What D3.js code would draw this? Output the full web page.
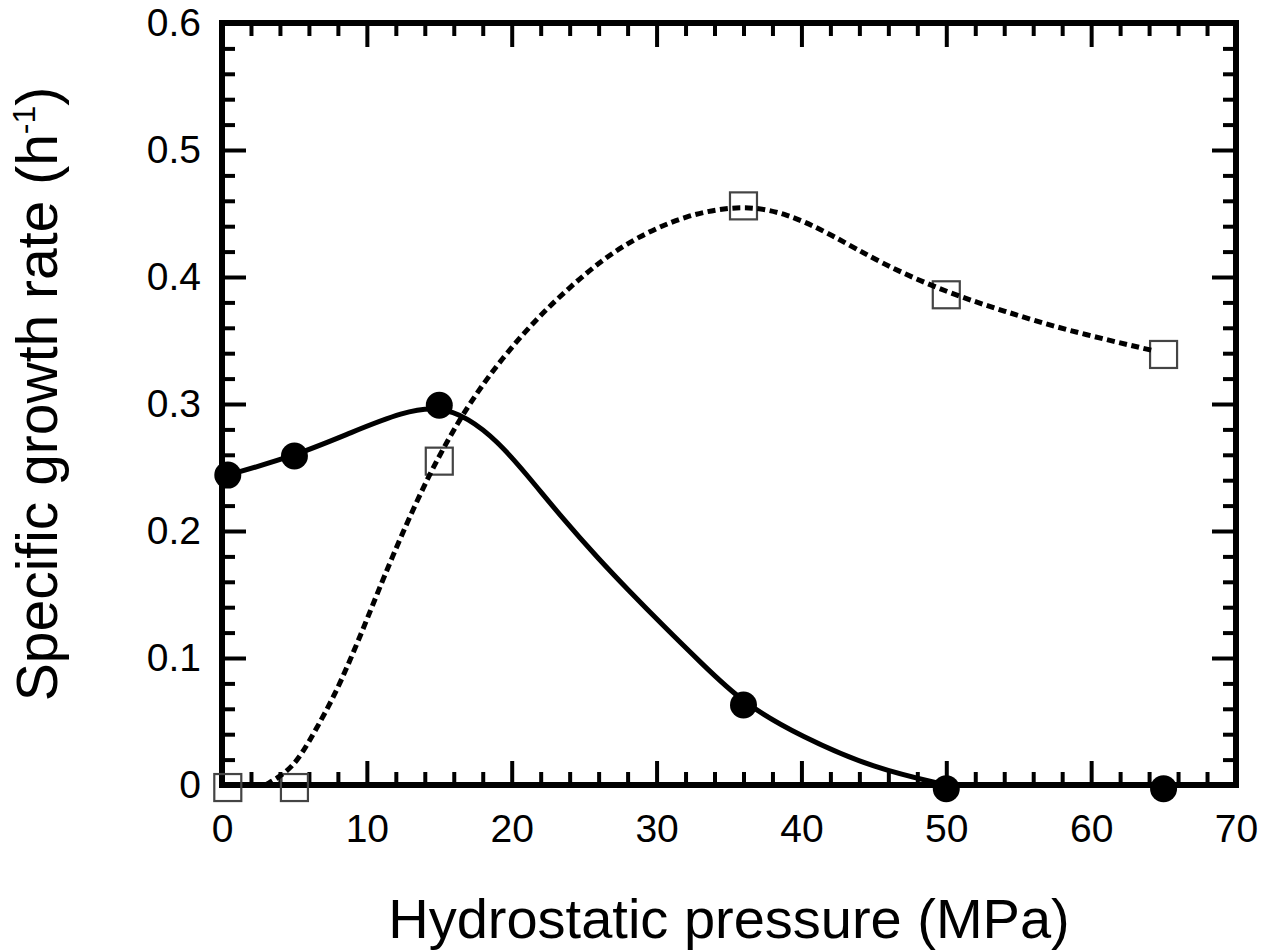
<!DOCTYPE html>
<html lang="en">
<head>
    <meta charset="UTF-8">
    <title>Specific growth rate vs hydrostatic pressure</title>
    <script src="https://cdn.jsdelivr.net/npm/d3@7"></script>
    <style>
        body { margin: 0; background: #fff; }
        text { font-family: "Liberation Sans", Arial, Helvetica, sans-serif; fill: #000; }
    </style>
</head>
<body>

<div id="fig1"></div>

<script>
    const width = 1265;
    const height = 951;

    // measured points (MPa, h^-1)
    const pressure = [0.4, 5, 15, 36, 50, 65];
    const filledRate = [0.244, 0.259, 0.299, 0.063, -0.003, -0.003];
    const openRate = [-0.002, -0.002, 0.255, 0.456, 0.386, 0.339];

    // fitted curves
    const solidFitX = [0.4, 5, 9, 12.5, 15, 17, 19, 21, 23.5, 26, 28, 30.5, 33, 36, 40, 45, 50];
    const solidFitY = [0.244, 0.259, 0.278, 0.294, 0.298, 0.289, 0.271, 0.245, 0.210, 0.178, 0.154, 0.125, 0.097, 0.064, 0.038, 0.013, 0];
    const dashFitX = [3, 4.5, 5.5, 6.5, 7.7, 8.8, 10, 11.6, 14.3, 17, 19.4, 21.7, 24, 26.3, 28.6, 32, 36, 39, 42, 45.6, 50, 54, 58.3, 64.3];
    const dashFitY = [0, 0.010, 0.024, 0.044, 0.069, 0.097, 0.130, 0.176, 0.246, 0.300, 0.337, 0.367, 0.392, 0.414, 0.431, 0.449, 0.457, 0.450, 0.434, 0.410, 0.388, 0.373, 0.358, 0.342];

    const xMajor = [0, 10, 20, 30, 40, 50, 60, 70];
    const xMinor = d3.range(0, 71, 2).filter(v => v % 10 !== 0);
    const yMajor = [0, 0.1, 0.2, 0.3, 0.4, 0.5, 0.6];
    const yMinor = d3.range(0, 31).map(i => i * 0.02).filter((v, i) => i % 5 !== 0);

    const plot = {left: 222, right: 1236, top: 23, bottom: 785};
    const majorLen = 24, minorLen = 13;

    const svg = d3.select("#fig1").append("svg")
        .attr("width", width)
        .attr("height", height);

    const x = d3.scaleLinear().domain([0, 70]).range([plot.left, plot.right]);
    const y = d3.scaleLinear().domain([0, 0.6]).range([plot.bottom, plot.top]);

    function styleTicks(g, sw) {
        g.select(".domain").remove();
        g.selectAll(".tick line").attr("stroke", "#000").attr("stroke-width", sw);
    }

    // minor ticks on all sides
    const minorAxes = [
        [d3.axisBottom(x).tickValues(xMinor), "translate(0," + plot.bottom + ")"],
        [d3.axisTop(x).tickValues(xMinor), "translate(0," + plot.top + ")"],
        [d3.axisLeft(y).tickValues(yMinor), "translate(" + plot.left + ",0)"],
        [d3.axisRight(y).tickValues(yMinor), "translate(" + plot.right + ",0)"]
    ];
    minorAxes.forEach(function (a) {
        svg.append("g")
            .attr("transform", a[1])
            .call(a[0].tickSize(-minorLen).tickFormat(""))
            .call(g => styleTicks(g, 4));
    });

    // major ticks, labels on bottom and left
    svg.append("g")
        .attr("transform", "translate(0," + plot.bottom + ")")
        .call(d3.axisBottom(x).tickValues(xMajor).tickSize(-majorLen).tickPadding(29).tickFormat(d3.format("d")))
        .call(g => styleTicks(g, 4))
        .call(g => g.selectAll("text").attr("font-size", 39).attr("font-family", null));

    svg.append("g")
        .attr("transform", "translate(0," + plot.top + ")")
        .call(d3.axisTop(x).tickValues(xMajor).tickSize(-majorLen).tickFormat(""))
        .call(g => styleTicks(g, 4));

    svg.append("g")
        .attr("transform", "translate(" + plot.left + ",0)")
        .call(d3.axisLeft(y).tickValues(yMajor).tickSize(-majorLen).tickPadding(21)
            .tickFormat(d => d === 0 ? "0" : d3.format(".1f")(d)))
        .call(g => styleTicks(g, 4))
        .call(g => g.selectAll("text").attr("font-size", 39).attr("font-family", null));

    svg.append("g")
        .attr("transform", "translate(" + plot.right + ",0)")
        .call(d3.axisRight(y).tickValues(yMajor).tickSize(-majorLen).tickFormat(""))
        .call(g => styleTicks(g, 4));

    // frame
    svg.append("rect")
        .attr("x", plot.left)
        .attr("y", plot.top)
        .attr("width", plot.right - plot.left)
        .attr("height", plot.bottom - plot.top)
        .attr("fill", "none")
        .attr("stroke", "#000")
        .attr("stroke-width", 6);

    const line = d3.line()
        .x(d => x(d[0]))
        .y(d => y(d[1]))
        .curve(d3.curveBasis);

    // open squares
    const sq = 27;
    svg.append("g").selectAll("rect")
        .data(pressure.map((p, i) => [p, openRate[i]]))
        .join("rect")
        .attr("x", d => x(d[0]) - sq / 2)
        .attr("y", d => y(d[1]) - sq / 2)
        .attr("width", sq)
        .attr("height", sq)
        .attr("fill", "none")
        .attr("stroke", "#444")
        .attr("stroke-width", 2.2);

    // dashed fit
    svg.append("path")
        .datum(dashFitX.map((v, i) => [v, dashFitY[i]]))
        .attr("fill", "none")
        .attr("stroke", "#000")
        .attr("stroke-width", 5)
        .attr("stroke-dasharray", "8,4.5")
        .attr("d", line);

    // solid fit
    svg.append("path")
        .datum(solidFitX.map((v, i) => [v, solidFitY[i]]))
        .attr("fill", "none")
        .attr("stroke", "#000")
        .attr("stroke-width", 5)
        .attr("d", line);

    // filled circles
    svg.append("g").selectAll("circle")
        .data(pressure.map((p, i) => [p, filledRate[i]]))
        .join("circle")
        .attr("cx", d => x(d[0]))
        .attr("cy", d => y(d[1]))
        .attr("r", 13.5)
        .attr("fill", "#000");

    // axis titles
    svg.append("text")
        .attr("x", (plot.left + plot.right) / 2)
        .attr("y", 938)
        .attr("text-anchor", "middle")
        .attr("font-size", 56)
        .text("Hydrostatic pressure (MPa)");

    const ylab = svg.append("text")
        .attr("transform", "translate(57,394) rotate(-90)")
        .attr("text-anchor", "middle")
        .attr("font-size", 57);
    ylab.append("tspan").text("Specific growth rate (h");
    ylab.append("tspan").attr("font-size", 32).attr("dy", -22).text("-1");
    ylab.append("tspan").attr("dy", 22).text(")");
</script>

</body>
</html>
